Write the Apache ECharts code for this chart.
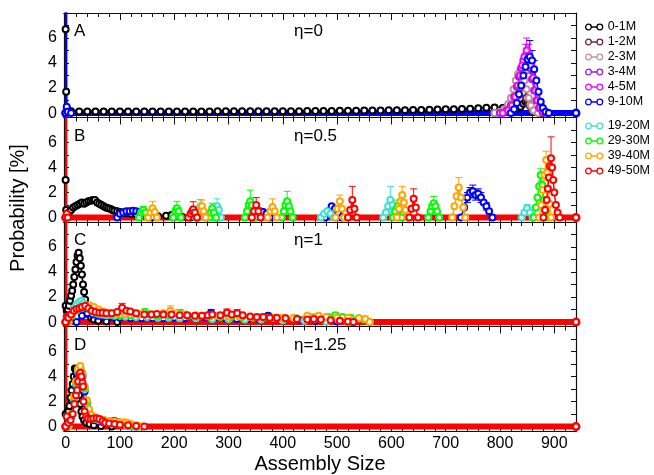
<!DOCTYPE html>
<html><head><meta charset="utf-8">
<script src="https://cdn.jsdelivr.net/npm/echarts@6/dist/echarts.min.js"></script>
<style>html,body{margin:0;padding:0;background:#fff}#c{width:654px;height:475px}</style>
</head><body><div id="c"></div>
<script>
// ---------- labels / categories ----------
const seriesNames = ['0-1M','1-2M','2-3M','3-4M','4-5M','9-10M','19-20M','29-30M','39-40M','49-50M'];
const seriesColors = ['#000000','#6e2050','#c49494','#9a20d8','#ff00ff','#0000ff','#40e0d0','#00ff00','#ffa500','#ff0000'];
const panelLetters = ['A','B','C','D'];
const panelEtas = ['η=0','η=0.5','η=1','η=1.25'];
const xTickLabels = [0,100,200,300,400,500,600,700,800,900];
const xMinorTicks = [0,20,40,60,80,120,140,160,180,220,240,260,280,320,340,360,380,420,440,460,480,520,540,560,580,620,640,660,680,720,740,760,780,820,840,860,880,920,940];
const yTickLabels = [0,2,4,6];
const yTicks = [0,1,2,3,4,5,6,7];
const X_MIN = -3, X_MAX = 940, Y_MIN = -0.35, Y_MAX = 8.0;

// ---------- data: [size, probability, (error)] ----------
// Panel A (eta = 0)
const a0 = [[0,6.7],[1,1.7],[3,0.3],[10,0.15],[25,0.12],[40,0.12],[55,0.12],[70,0.12],[85,0.12],[100,0.12],[115,0.12],[130,0.12],[145,0.12],[160,0.12],[175,0.12],[190,0.12],[205,0.12],[220,0.12],[235,0.12],[250,0.12],[265,0.12],[280,0.14],[295,0.14],[310,0.14],[325,0.14],[340,0.14],[355,0.14],[370,0.14],[385,0.15],[400,0.15],[415,0.15],[430,0.15],[445,0.16],[460,0.16],[475,0.16],[490,0.17],[505,0.18],[520,0.18],[535,0.18],[550,0.2],[565,0.2],[580,0.2],[595,0.22],[610,0.22],[625,0.22],[640,0.24],[655,0.25],[670,0.26],[685,0.28],[700,0.3],[715,0.3],[730,0.32],[745,0.35],[760,0.38],[775,0.42],[790,0.45],[805,0.4],[818,0.3],[830,0.35],[838,0.5],[843,0.75],[847,0.9],[851,0.85],[855,0.6],[859,0.3],[865,0.1],[875,0]];
const a1 = [[790,0],[805,0.1],[815,0.3],[822,0.6],[828,1.0],[833,1.4],[838,1.8],[843,1.6],[848,1.2],[853,0.7],[858,0.3],[865,0.1],[875,0]];
const a2 = [[790,0],[800,0.1],[808,0.3],[815,0.7],[820,1.2],[825,1.9],[829,2.6],[833,3.1],[837,3.4],[841,3.2],[845,2.6],[849,1.9],[853,1.2],[857,0.6],[862,0.2],[870,0]];
const a3 = [[800,0],[812,0.2],[820,0.6],[826,1.3],[831,2.1],[835,2.9],[839,3.6],[843,4.2],[847,4.6,0.9],[851,4.3,0.8],[855,3.6],[859,2.7],[863,1.8],[867,1.0],[872,0.4],[878,0.1],[885,0]];
const a4 = [[805,0],[815,0.2],[822,0.6],[828,1.3],[833,2.2],[837,3.0],[841,3.8],[845,4.5],[849,5.0,1.0],[853,4.6,0.9],[857,3.8],[861,2.8],[865,1.8],[869,1.0],[874,0.4],[880,0.1],[887,0]];
const a5 = [[0,0],[1,40],[2,0.5],[4,0.1],[10,0],[820,0],[826,0.3],[831,0.8],[835,1.5],[839,2.2],[843,3.0],[847,3.7],[851,4.3],[855,4.5,1.3],[859,4.2,0.8],[863,3.5,0.7],[867,2.6],[871,1.7],[875,0.9],[879,0.4],[884,0.1],[890,0],[940,0]];
// Panel B (eta = 0.5)
const b0 = [[0,3.0],[1,0.6],[3,0.3],[6,0.4],[10,0.6],[14,0.8],[18,0.9],[22,1.0],[26,1.1],[30,1.2],[34,1.1],[38,1.2],[42,1.3],[46,1.35],[50,1.4],[54,1.4],[58,1.2],[62,1.1],[66,1.0],[70,0.9],[74,0.8],[78,0.75],[82,0.7],[86,0.6],[90,0.55],[95,0.5],[100,0.45],[106,0.4],[112,0.35],[120,0.3],[130,0.25],[140,0.2],[155,0.15],[170,0.1],[185,0.15],[195,0.2],[205,0.15],[215,0.05],[230,0]];
const b5 = [[95,0],[100,0.3],[106,0.4],[112,0.5],[118,0.5],[124,0.55],[130,0.5],[136,0.4],[142,0.3],[150,0.1],[158,0],[345,0],[352,0.3],[358,0.5],[364,0.45],[370,0.3],[376,0],[478,0],[484,0.5],[490,0.9],[496,0.7],[502,0.3],[508,0],[728,0],[734,0.8],[740,1.6,0.4],[745,2.0,0.4],[750,2.1,0.5],[755,1.8,0.4],[760,1.9,0.4],[765,1.6,0.4],[770,1.2],[775,0.9,0.3],[780,0.5],[786,0]];
const b6 = [[240,0],[244,0.5],[248,0.9,0.55],[252,0.5],[256,0],[272,0],[276,0.5],[279,0.9,0.6],[282,0.6],[286,0],[470,0],[476,0.3],[482,0.5],[488,0.3],[494,0],[585,0],[590,0.4],[594,0.9],[598,1.4,1.1],[602,1.0],[606,0.6],[610,0.2],[614,0],[840,0],[845,0.4],[850,0.75,0.3],[855,0.4],[860,0]];
const b7 = [[135,0],[139,0.4],[143,0.6,0.3],[147,0.4],[151,0],[198,0],[202,0.5],[205,0.75,0.55],[208,0.5],[212,0],[264,0],[267,0.4],[270,0.75,0.4],[273,0.4],[277,0],[330,0],[334,0.5],[337,1.0],[340,1.3,0.9],[343,1.0],[346,0.5],[350,0],[398,0],[402,0.5],[405,1.0],[408,1.3,0.8],[411,0.9],[414,0.5],[418,0],[603,0],[607,0.5],[611,0.9,0.5],[615,0.6],[619,0],[668,0],[672,0.5],[675,0.9],[678,1.15,0.55],[681,0.9],[684,0.5],[688,0],[862,0],[866,0.8],[869,1.6],[872,2.5],[875,3.4,0.5],[878,2.6],[881,1.4],[884,0.5],[888,0]];
const b8 = [[152,0],[156,0.4],[160,0.75,0.55],[164,0.45],[168,0],[244,0],[248,0.5],[251,0.9,0.5],[254,0.5],[258,0],[372,0],[377,0.5],[381,0.85,0.65],[385,0.5],[389,0],[497,0],[501,0.7],[505,1.3,0.5],[509,0.7],[513,0],[610,0],[614,0.7],[617,1.3],[620,1.8,0.7],[623,1.2],[626,0.6],[630,0],[712,0],[716,0.9],[720,1.7],[724,2.4,0.8],[728,1.6],[732,0.8],[736,0],[872,0],[876,1.0],[879,2.2],[882,3.4],[885,4.6,0.7],[887,3.6],[889,2.3],[891,1.1],[894,0]];
const b9 = [[0,0],[1,40],[2,0.3],[4,0],[226,0],[230,0.3],[233,0.5],[235,0.67,0.6],[238,0.4],[242,0],[343,0],[347,0.5],[351,1.0,0.6],[355,0.5],[359,0],[520,0],[524,0.6],[528,1.4,1.1],[532,0.7],[536,0],[633,0],[637,0.7],[641,1.5,0.8],[645,0.8],[649,0],[880,0],[883,0.6],[886,1.4],[888,2.3],[890,3.2],[892,4.1],[894,4.75,1.7],[896,4.0],[898,3.0],[900,2.0],[903,1.0],[906,0.4],[910,0],[940,0]];
// Panel C (eta = 1)
const c0 = [[0,1.3],[2,0.9],[4,1.0],[6,1.3],[8,1.7],[10,2.1],[12,2.5],[14,3.0],[16,3.6],[18,4.2],[20,4.8],[22,5.3],[24,5.55],[26,5.1],[28,4.5],[30,3.8],[32,3.0],[34,2.4],[36,1.8],[38,1.3],[40,0.9],[43,0.6],[47,0.35],[52,0.2],[60,0.1],[75,0.05],[95,0]];
const c5 = [[20,0],[30,0.5],[40,0.7],[50,0.6],[60,0.5],[70,0.45],[85,0.4],[100,0.35],[120,0.3],[140,0.3],[160,0.3],[180,0.3],[200,0.35],[220,0.3],[240,0.3],[255,0.4],[268,0.75,0.25],[278,0.4],[295,0.3],[315,0.25],[335,0.25],[355,0.25],[365,0.3],[373,0.5,0.2],[382,0.3],[400,0.2],[430,0.15],[460,0.1],[500,0.05],[530,0]];
const c6 = [[5,0],[10,0.6],[15,1.1],[20,1.4],[25,1.6],[29,1.7],[33,1.5],[38,1.2],[44,1.0],[50,0.8],[58,0.7],[66,0.6],[76,0.55],[90,0.5],[110,0.45],[130,0.4],[150,0.4],[170,0.35],[190,0.35],[210,0.3],[240,0.3],[270,0.25],[300,0.25],[330,0.2],[360,0.2],[400,0.15],[440,0.1],[480,0.05],[520,0]];
const c7 = [[5,0],[12,0.5],[20,0.9],[28,1.1],[36,1.2],[44,1.0],[52,0.85],[60,0.75],[70,0.7],[85,0.6],[100,0.55],[120,0.55],[135,0.6],[146,0.8,0.25],[155,0.6],[170,0.5],[190,0.55],[211,0.75,0.25],[225,0.5],[245,0.45],[265,0.45],[285,0.4],[305,0.4],[325,0.4],[345,0.35],[365,0.35],[385,0.35],[405,0.3],[425,0.3],[445,0.35],[465,0.35],[485,0.4],[497,0.55,0.2],[510,0.4],[525,0.35],[540,0.3],[550,0.2],[560,0]];
const c8 = [[5,0],[12,0.6],[20,1.0],[28,1.2],[36,1.3],[44,1.35],[52,1.2],[60,1.0],[70,0.85],[80,0.75],[95,0.7],[110,0.65],[125,0.7],[140,0.65],[160,0.6],[180,0.7],[193,0.9,0.4],[205,0.7],[220,0.6],[240,0.55],[260,0.5],[280,0.5],[300,0.45],[320,0.45],[340,0.4],[360,0.4],[380,0.35],[400,0.35],[420,0.35],[445,0.5,0.2],[455,0.4],[466,0.5,0.2],[480,0.4],[500,0.35],[520,0.35],[540,0.3],[552,0.25],[560,0]];
const c9 = [[0,0],[1,40],[2,0.45],[5,0.35],[10,0.6],[15,0.9],[20,1.05],[25,1.1],[30,1.2],[36,1.3],[42,1.1],[48,0.9],[55,0.8],[62,0.75],[68,0.75],[75,0.7],[85,0.7],[95,0.8],[104,1.15,0.35],[112,0.9],[119,0.85],[130,0.7],[145,0.6],[158,0.6],[168,0.65],[180,0.6],[195,0.6],[210,0.55],[224,0.55],[238,0.5],[251,0.5],[262,0.55],[270,0.6],[285,0.55],[297,0.75,0.3],[306,0.6],[316,0.7,0.3],[326,0.55],[340,0.45],[352,0.4],[364,0.4],[376,0.35],[389,0.35],[405,0.3],[426,0.25],[445,0.2],[457,0.25],[470,0.2],[488,0.15],[505,0.1],[520,0.05],[530,0],[940,0]];
// Panel D (eta = 1.25)
const d0 = [[0,1.0],[3,0.9],[5,1.2],[7,1.65],[9,2.3],[11,2.9],[13,3.4],[15,4.0],[17,4.65],[19,4.5],[21,4.0],[23,3.3],[25,2.5],[27,1.8],[29,1.2],[31,0.8],[34,0.5],[38,0.3],[44,0.2],[52,0.1],[65,0.05],[85,0]];
const d5 = [[5,0],[10,0.8],[15,2.0],[19,3.2],[23,4.2],[27,4.6],[31,4.0],[35,2.8],[39,1.8],[43,1.1],[48,0.7],[54,0.5],[62,0.4],[70,0.35],[78,0.35],[85,0.4],[90,0.45],[96,0.35],[104,0.2],[115,0.1],[130,0]];
const d6 = [[5,0],[10,0.9],[15,2.2],[19,3.4],[23,4.4],[27,4.7],[31,4.1],[35,3.0],[39,1.9],[43,1.2],[48,0.8],[54,0.6],[62,0.5],[70,0.45],[80,0.35],[90,0.3],[100,0.2],[112,0.1],[125,0]];
const d7 = [[5,0],[10,1.0],[15,2.3],[19,3.5],[23,4.5],[27,4.75],[31,4.2],[35,3.1],[39,2.0],[43,1.3],[48,0.85],[54,0.65],[62,0.55],[70,0.5],[80,0.4],[90,0.35],[100,0.3],[110,0.2],[120,0.1],[135,0]];
const d8 = [[5,0],[10,1.0],[15,2.4],[19,3.6],[23,4.6],[27,4.85],[31,4.3],[35,3.2],[39,2.1],[43,1.4],[48,0.9],[54,0.7],[62,0.6],[70,0.55],[80,0.45],[90,0.4],[100,0.35],[108,0.35],[113,0.3],[120,0.2],[130,0.1],[140,0]];
const d9 = [[0,0],[1,40],[2,0.8],[5,0.3],[9,0.5],[13,1.0],[16,1.8],[19,2.5],[21,2.9],[23,3.6],[25,4.1],[27,4.3],[29,4.0],[31,3.5],[32,3.2],[33,2.0],[35,1.2],[38,0.8],[41,0.65],[46,0.6],[51,0.65],[57,0.67],[62,0.6],[68,0.45],[73,0.3],[80,0.25],[90,0.2],[100,0.15],[115,0.1],[130,0.05],[145,0],[940,0]];
const baseline = [[0,0],[940,0]];

const panels = [
  [a0,a1,a2,a3,a4,a5,[],[],[],[]],
  [b0,[],[],[],[],b5,b6,b7,b8,b9],
  [c0,[],[],[],[],c5,c6,c7,c8,c9],
  [d0,[],[],[],[],d5,d6,d7,d8,d9]
];
const baselineColorIndex = [5,9,9,9];

// ---------- layout ----------
const FONT = '"Liberation Sans", Arial, Helvetica, sans-serif';
const L = 64, R = 576, TOP = 13, PH = 104.5;
const AX = '#111';

const grids = [], xAxes = [], yAxes = [], series = [], graphics = [];
for (let g = 0; g < 4; g++) {
  grids.push({left: L, width: R - L, top: TOP + g * PH, height: PH});
  const xc = {gridIndex: g, type: 'value', min: X_MIN, max: X_MAX, splitLine: {show: false},
    axisLine: {show: true, onZero: false, lineStyle: {color: AX, width: 1.2}}};
  for (const pos of ['bottom', 'top']) {
    const withLabel = (g === 3 && pos === 'bottom');
    xAxes.push(Object.assign({}, xc, {position: pos,
      axisTick: {show: true, inside: true, length: 7, customValues: xTickLabels, lineStyle: {color: AX, width: 1}},
      axisLabel: {show: withLabel, customValues: xTickLabels, fontSize: 16, color: '#000', fontFamily: FONT, margin: 5},
      name: withLabel ? 'Assembly Size' : '', nameLocation: 'middle', nameGap: 23,
      nameTextStyle: {fontSize: 20, color: '#000', fontFamily: FONT}}));
    xAxes.push(Object.assign({}, xc, {position: pos,
      axisTick: {show: true, inside: true, length: 4, customValues: xMinorTicks, lineStyle: {color: AX, width: 1}},
      axisLabel: {show: false}}));
  }
  const yc = {gridIndex: g, type: 'value', min: Y_MIN, max: Y_MAX, splitLine: {show: false},
    axisLine: {show: true, onZero: false, lineStyle: {color: AX, width: 1.2}}};
  for (const pos of ['left', 'right']) {
    yAxes.push(Object.assign({}, yc, {position: pos,
      axisTick: {show: true, inside: true, length: 5, customValues: yTicks, lineStyle: {color: AX, width: 1}},
      axisLabel: {show: pos === 'left', customValues: yTickLabels, fontSize: 16, color: '#000', fontFamily: FONT, margin: 7}}));
  }
  // series
  const data = panels[g];
  for (let k = 0; k < 10; k++) {
    const pts = data[k];
    if (!pts.length) continue;
    const color = seriesColors[k];
    if (k === baselineColorIndex[g]) {
      series.push({type: 'line', name: 'base', xAxisIndex: 4 * g, yAxisIndex: 2 * g, data: baseline,
        symbol: 'emptyCircle', symbolSize: 7, lineStyle: {color: color, width: 6}, itemStyle: {color: color, borderWidth: 1.5},
        silent: true, animation: false});
    }
    const errs = pts.filter(p => p.length > 2);
    if (errs.length) {
      series.push({type: 'custom', name: 'err', xAxisIndex: 4 * g, yAxisIndex: 2 * g, clip: true, silent: true,
        animation: false, data: errs, dimensions: ['x', 'y', 'e'], encode: {x: 0, y: 1},
        renderItem: (params, api) => {
          const x = api.value(0), y = api.value(1), e = api.value(2);
          const t = api.coord([x, y + e]), b = api.coord([x, y - e]);
          const st = {stroke: color, lineWidth: 1};
          return {type: 'group', children: [
            {type: 'line', shape: {x1: t[0], y1: t[1], x2: b[0], y2: b[1]}, style: st},
            {type: 'line', shape: {x1: t[0] - 3.5, y1: t[1], x2: t[0] + 3.5, y2: t[1]}, style: st},
            {type: 'line', shape: {x1: b[0] - 3.5, y1: b[1], x2: b[0] + 3.5, y2: b[1]}, style: st}
          ]};
        }});
    }
    series.push({type: 'line', name: seriesNames[k], xAxisIndex: 4 * g, yAxisIndex: 2 * g,
      data: pts.map(p => [p[0], p[1]]), symbol: 'emptyCircle', symbolSize: 6, showAllSymbol: true,
      lineStyle: {color: color, width: 1.5}, itemStyle: {color: color, borderWidth: 1.5},
      emphasis: {disabled: true}, animation: false, clip: true});
  }
  graphics.push({type: 'text', left: 74, top: TOP + g * PH + 10, style: {text: panelLetters[g], fontSize: 17, fontFamily: FONT, fill: '#000'}});
  graphics.push({type: 'text', left: 294, top: TOP + g * PH + 10, style: {text: panelEtas[g], fontSize: 17, fontFamily: FONT, fill: '#000'}});
}
graphics.push({type: 'text', x: 18, y: 208, rotation: Math.PI / 2,
  style: {text: 'Probability [%]', fontSize: 20, fontFamily: FONT, fill: '#000', align: 'center', verticalAlign: 'middle'}});

const oIcon = 'path://M0.5,3a2.5,2.5 0 1,0 5,0a2.5,2.5 0 1,0 -5,0M5.5,3L10.5,3M10.5,3a2.5,2.5 0 1,0 5,0a2.5,2.5 0 1,0 -5,0';
function legendBlock(names, colorsOff, top) {
  return {orient: 'vertical', left: 585, top: top, itemWidth: 17, itemHeight: 6, itemGap: 0, selectedMode: false,
    padding: 0, icon: oIcon,
    textStyle: {fontSize: 12.5, color: '#000', fontFamily: FONT, lineHeight: 15, padding: [0, 0, 0, 0]},
    data: names.map((n, i) => ({name: n, icon: oIcon,
      itemStyle: {color: 'rgba(0,0,0,0)', borderColor: seriesColors[colorsOff + i], borderWidth: 1.3}}))};
}

const chart = echarts.init(document.getElementById('c'), null, {renderer: 'canvas'});
chart.setOption({
  animation: false,
  backgroundColor: '#fff',
  grid: grids, xAxis: xAxes, yAxis: yAxes, series: series,
  legend: [legendBlock(seriesNames.slice(0, 6), 0, 19.5), legendBlock(seriesNames.slice(6), 6, 118.5)],
  graphic: graphics
});
</script></body></html>
